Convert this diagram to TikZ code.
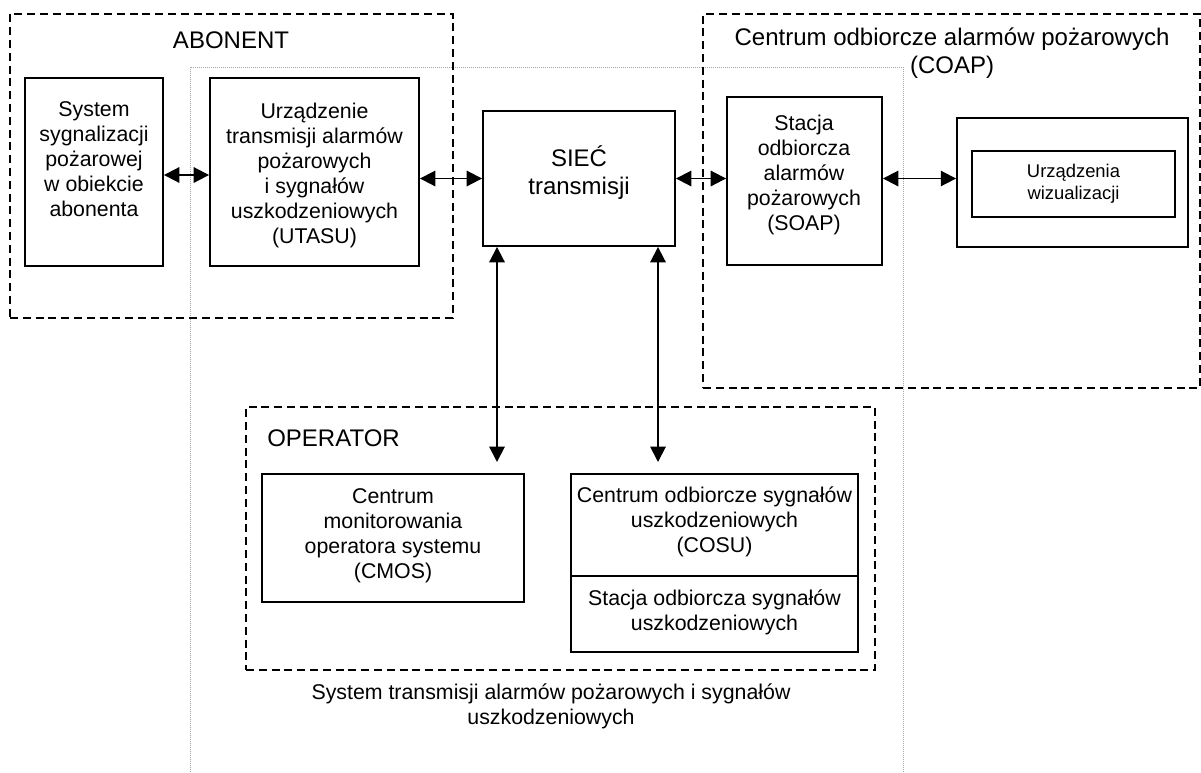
\documentclass[tikz,border=0pt]{standalone}
\usepackage{fontspec}
\setmainfont{Liberation Sans}
\usetikzlibrary{arrows.meta,fit}
\begin{document}
\begin{tikzpicture}[x=0.75pt,y=-0.75pt,
 box/.style={draw, line width=1.4pt, inner sep=0pt},
 grp/.style={draw, line width=1.4pt, dash pattern=on 6pt off 3.6pt, inner sep=0pt},
 txt/.style={align=center, font=\fontsize{16}{18.75}\selectfont, inner sep=0pt},
 small/.style={align=center, font=\fontsize{13.8}{16.5}\selectfont, inner sep=0pt},
 big/.style={align=center, font=\fontsize{18}{21}\selectfont, inner sep=0pt},
 link/.style={line width=1.4pt, {Triangle[length=11.5pt,width=11.5pt]}-{Triangle[length=11.5pt,width=11.5pt]}},
 frame/.style={draw=gray!70, line width=0.5pt, dash pattern=on 0.75pt off 0.75pt},
]
\useasboundingbox[fill=white] (0,0) rectangle (1201,772);

% thin outer frame of the system
\draw[frame] (190,772) -- (190,67) -- (903,67) -- (903,772);

% group frames
\node[grp, fit={(10,14) (453,318)}] (abon) {};
\node[grp, fit={(703,14) (1200,388)}] (coap) {};
\node[grp, fit={(246,407) (875,670)}] (oper) {};

\node[big] (abontxt) at (231,40) {ABONENT};
\node[big] (coaptxt) at (952,53) {Centrum odbiorcze alarmów pożarowych\\(COAP)};
\node[big, anchor=west] (opertxt) at (267,438) {OPERATOR};

% boxes
\node[box, fit={(25,78) (163,266)}] (sys) {};
\node[txt] (systxt) at (94,159) {System\\sygnalizacji\\pożarowej\\w obiekcie\\abonenta};

\node[box, fit={(210,78) (419,266)}] (utasu) {};
\node[txt] (utasutxt) at (314.5,175) {Urządzenie\\transmisji alarmów\\pożarowych\\i sygnałów\\uszkodzeniowych\\(UTASU)};

\node[box, fit={(483,111) (675,246)}] (siec) {};
\node[big] (siectxt) at (579,172.5) {SIEĆ\\transmisji};

\node[box, fit={(727,97) (882,265)}] (soap) {};
\node[txt] (soaptxt) at (804,175) {Stacja\\odbiorcza\\alarmów\\pożarowych\\(SOAP)};

\node[box, fit={(957,118) (1188,247)}] (vis) {};
\node[box, fit={(972,151) (1175,217)}] (visin) {};
\node[small] (vistxt) at (1073.5,184) {Urządzenia\\wizualizacji};

\node[box, fit={(262,474) (524,602)}] (cmos) {};
\node[txt] (cmostxt) at (393,536) {Centrum\\monitorowania\\operatora systemu\\(CMOS)};

\node[box, fit={(571,474) (858,576)}] (cosu) {};
\node[txt] (cosutxt) at (714.5,521.5) {Centrum odbiorcze sygnałów\\uszkodzeniowych\\(COSU)};
\node[box, fit={(571,576) (858,652)}] (sosu) {};
\node[txt] (sosutxt) at (714.5,612) {Stacja odbiorcza sygnałów\\uszkodzeniowych};

\node[txt] (systemtxt) at (551,706) {System transmisji alarmów pożarowych i sygnałów\\uszkodzeniowych};

% connectors
\coordinate (row) at (0,175);
\coordinate (c1) at (497,462);
\coordinate (c2) at (658,462);
\draw[link] (sys.east |- row) -- (utasu.west |- row);
\draw[link] (utasu.east |- siec.center) -- (siec.west);
\draw[link] (siec.east) -- (soap.west |- siec.east);
\draw[link] (soap.east |- siec.east) -- (vis.west |- siec.east);
\draw[link] (siec.south -| c1) -- (c1);
\draw[link] (siec.south -| c2) -- (c2);
\end{tikzpicture}
\end{document}
